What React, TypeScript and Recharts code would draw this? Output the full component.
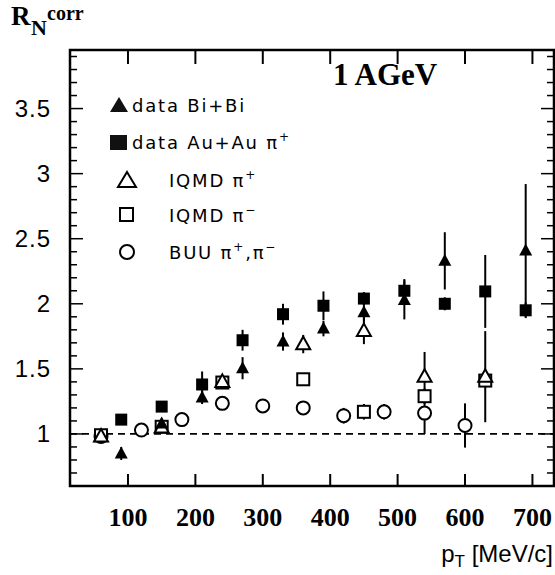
import React from "react";
import { ScatterChart, Scatter, XAxis, YAxis, ErrorBar, ReferenceLine, ReferenceArea } from "recharts";

// data Bi+Bi (filled triangles)
const biX = [90, 150, 210, 270, 330, 390, 450, 510, 570, 690];
const biY = [0.85, 1.08, 1.28, 1.505, 1.71, 1.81, 1.935, 2.03, 2.33, 2.41];
const biErr = [0.05, 0.04, 0.05, 0.085, 0.07, 0.06, 0.07, 0.15, 0.22, 0.51];

// data Au+Au pi+ (filled squares)
const auX = [90, 150, 210, 270, 330, 390, 450, 510, 570, 630, 690];
const auY = [1.11, 1.21, 1.38, 1.72, 1.92, 1.985, 2.04, 2.1, 2.0, 2.095, 1.95];
const auErr = [0.02, 0.02, 0.1, 0.08, 0.08, 0.11, 0.05, 0.09, 0.05, 0.28, 0.06];

// IQMD pi+ (open triangles)
const iqpX = [60, 150, 240, 360, 450, 540, 630];
const iqpY = [0.98, 1.05, 1.4, 1.69, 1.79, 1.44, 1.44];
const iqpErr = [0.02, 0.02, 0.03, 0.07, 0.1, 0.19, 0.35];

// IQMD pi- (open squares)
const iqmX = [60, 150, 240, 360, 450, 540, 630];
const iqmY = [0.99, 1.055, 1.395, 1.42, 1.17, 1.29, 1.41];
const iqmErr = [0.02, 0.02, 0.02, 0.03, 0.06, 0.06, 0.05];

// BUU pi+,pi- (open circles)
const buuX = [60, 120, 180, 240, 300, 360, 420, 480, 540, 600];
const buuY = [0.98, 1.03, 1.11, 1.235, 1.215, 1.2, 1.14, 1.17, 1.16, 1.065];
const buuErr = [0, 0, 0, 0, 0, 0.03, 0.06, 0.06, 0.16, 0.17];

const xTicks = [100, 200, 300, 400, 500, 600, 700];
const yTicks = [0.7, 0.8, 0.9, 1, 1.1, 1.2, 1.3, 1.4, 1.5, 1.6, 1.7, 1.8, 1.9, 2, 2.1, 2.2, 2.3, 2.4, 2.5, 2.6, 2.7, 2.8, 2.9, 3, 3.1, 3.2, 3.3, 3.4, 3.5, 3.6, 3.7, 3.8, 3.9];
const yLabels = [1, 1.5, 2, 2.5, 3, 3.5];

const toRows = (xs: number[], ys: number[], es: number[]) =>
  xs.map((x, i) => ({ x, y: ys[i], err: es[i] }));

const W = 555;
const H = 575;
const margin = { top: 50, right: 1, bottom: 29, left: 10 };
const plotW = W - margin.left - margin.right - 60;
const plotH = H - margin.top - margin.bottom - 60;

const XTick = (p: any) => {
  const { x, y, payload } = p;
  return (
    <g>
      <line x1={x} x2={x} y1={y} y2={y - 12} stroke="#000" strokeWidth={2} />
      <line x1={x} x2={x} y1={y - plotH} y2={y - plotH + 14} stroke="#000" strokeWidth={2} />
      <text x={x} y={y + 40} textAnchor="middle" fontFamily="'Liberation Serif', serif" fontWeight="bold" fontSize={26} fill="#000">
        {payload.value}
      </text>
    </g>
  );
};

const YTick = (p: any) => {
  const { x, y, payload } = p;
  const major = yLabels.includes(payload.value);
  const len = major ? 13 : 7;
  return (
    <g>
      <line x1={x} x2={x + len} y1={y} y2={y} stroke="#000" strokeWidth={1.5} />
      <line x1={x + plotW} x2={x + plotW - len} y1={y} y2={y} stroke="#000" strokeWidth={1.5} />
      {major && (
        <text x={x - 19} y={y + 8} textAnchor="end" fontFamily="'Liberation Sans', Arial, sans-serif" fontSize={24} letterSpacing={1} fill="#000">
          {payload.value}
        </text>
      )}
    </g>
  );
};

const FilledTri = (p: any) => (
  <polygon points={`${p.cx},${p.cy - 7} ${p.cx + 6.5},${p.cy + 5} ${p.cx - 6.5},${p.cy + 5}`} fill="#000" />
);
const FilledSq = (p: any) => <rect x={p.cx - 6} y={p.cy - 6} width={12} height={12} fill="#000" />;
const OpenTri = (p: any) => (
  <polygon points={`${p.cx},${p.cy - 7.5} ${p.cx + 7},${p.cy + 5} ${p.cx - 7},${p.cy + 5}`} fill="#fff" stroke="#000" strokeWidth={2} />
);
const OpenSq = (p: any) => (
  <rect x={p.cx - 6} y={p.cy - 6} width={12} height={12} fill="#fff" stroke="#000" strokeWidth={2} />
);
const OpenCirc = (p: any) => <circle cx={p.cx} cy={p.cy} r={6.5} fill="#fff" stroke="#000" strokeWidth={2} />;

const legendFont = "'DejaVu Sans', sans-serif";

export default function App() {
  return (
    <div style={{ position: "absolute", left: 0, top: 0, width: W, height: H, background: "#fff" }}>
      <ScatterChart width={W} height={H} margin={margin}>
        <XAxis
          dataKey="x"
          type="number"
          domain={[14, 732]}
          ticks={xTicks}
          interval={0}
          tickSize={0}
          tickMargin={0}
          tickLine={false}
          axisLine={false}
          height={60}
          allowDataOverflow
          tick={<XTick />}
        />
        <YAxis
          dataKey="y"
          type="number"
          domain={[0.6, 3.95]}
          ticks={yTicks}
          interval={0}
          tickSize={0}
          tickMargin={0}
          tickLine={false}
          axisLine={false}
          width={60}
          allowDataOverflow
          tick={<YTick />}
        />
        <ReferenceLine y={1} stroke="#000" strokeWidth={1.8} strokeDasharray="7 5" />
        <Scatter data={toRows(buuX, buuY, buuErr)} shape={OpenCirc} isAnimationActive={false}>
          <ErrorBar dataKey="err" direction="y" width={0} stroke="#000" strokeWidth={2} />
        </Scatter>
        <Scatter data={toRows(iqmX, iqmY, iqmErr)} shape={OpenSq} isAnimationActive={false}>
          <ErrorBar dataKey="err" direction="y" width={0} stroke="#000" strokeWidth={2} />
        </Scatter>
        <Scatter data={toRows(iqpX, iqpY, iqpErr)} shape={OpenTri} isAnimationActive={false}>
          <ErrorBar dataKey="err" direction="y" width={0} stroke="#000" strokeWidth={2} />
        </Scatter>
        <Scatter data={toRows(auX, auY, auErr)} shape={FilledSq} isAnimationActive={false}>
          <ErrorBar dataKey="err" direction="y" width={0} stroke="#000" strokeWidth={2} />
        </Scatter>
        <Scatter data={toRows(biX, biY, biErr)} shape={FilledTri} isAnimationActive={false}>
          <ErrorBar dataKey="err" direction="y" width={0} stroke="#000" strokeWidth={2} />
        </Scatter>
        <ReferenceArea x1={14} x2={732} y1={0.6} y2={3.95} fill="none" stroke="#000" strokeWidth={2.5} />
      </ScatterChart>

      <svg width={W} height={H} style={{ position: "absolute", left: 0, top: 0, pointerEvents: "none" }}>
        {/* axis titles */}
        <g fontFamily="'Liberation Serif', serif" fontWeight="bold" fill="#000">
          <text x={11} y={25} fontSize={27}>R</text>
          <text x={31} y={35} fontSize={22}>N</text>
          <text x={47} y={20} fontSize={20}>corr</text>
          <text x={333} y={85} fontSize={31}>1 AGeV</text>
        </g>
        <text x={553} y={562} textAnchor="end" fontFamily="'Liberation Sans', Arial, sans-serif" fontSize={24} fill="#000">
          p<tspan fontSize={17} dy={5}>T</tspan><tspan dy={-5}> [MeV/c]</tspan>
        </text>

        {/* legend */}
        <polygon points="119,97 128,112 110,112" fill="#111" />
        <rect x={110} y={135} width={17} height={15} fill="#111" />
        <polygon points="127,172 136,187 118,187" fill="none" stroke="#000" strokeWidth={2} />
        <rect x={120} y={208} width={13} height={13} fill="none" stroke="#000" strokeWidth={2} />
        <circle cx={127} cy={252} r={7} fill="none" stroke="#000" strokeWidth={2} />
        <g fontFamily={legendFont} fontSize={18} letterSpacing={1.8} fill="#000">
          <text x={132} y={112}>data Bi+Bi</text>
          <text x={132} y={149}>
            data Au+Au π<tspan fontSize={12} dy={-8}>+</tspan>
          </text>
          <text x={169} y={187}>
            IQMD π<tspan fontSize={12} dy={-8}>+</tspan>
          </text>
          <text x={169} y={222}>
            IQMD π<tspan fontSize={12} dy={-8}>−</tspan>
          </text>
          <text x={169} y={259}>
            BUU π<tspan fontSize={12} dy={-8}>+</tspan>
            <tspan dy={8}>,π</tspan>
            <tspan fontSize={12} dy={-8}>−</tspan>
          </text>
        </g>
      </svg>
    </div>
  );
}
